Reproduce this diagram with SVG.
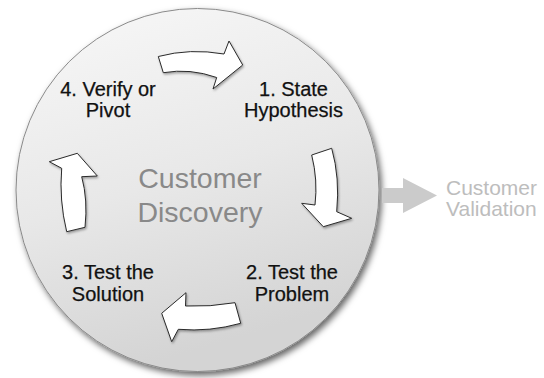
<svg xmlns="http://www.w3.org/2000/svg" width="544" height="378" viewBox="0 0 544 378">
  <defs>
    <linearGradient id="disc" x1="0" y1="0" x2="0.3" y2="1">
      <stop offset="0" stop-color="#f8f8f8"/>
      <stop offset="0.55" stop-color="#e8e8e8"/>
      <stop offset="1" stop-color="#d4d4d4"/>
    </linearGradient>
    <filter id="shadow" x="-10%" y="-10%" width="125%" height="125%">
      <feDropShadow dx="2.5" dy="3.5" stdDeviation="3" flood-color="#000" flood-opacity="0.6"/>
    </filter>
    <filter id="ashadow" x="-20%" y="-20%" width="150%" height="150%">
      <feDropShadow dx="1" dy="1.5" stdDeviation="1.2" flood-color="#000" flood-opacity="0.35"/>
    </filter>
    <style>
      .lbl { font-family: "Liberation Sans", Arial, sans-serif; font-size: 20px; fill: #111; stroke: #111; stroke-width: 0.25; text-anchor: middle; }
      .big { font-family: "Liberation Sans", Arial, sans-serif; font-size: 28.5px; fill: #898989; text-anchor: middle; }
      .out { font-family: "Liberation Sans", Arial, sans-serif; font-size: 21px; fill: #bdbdbd; }
      .cyc { fill: #ffffff; stroke: #2a2a2a; stroke-width: 1; stroke-linejoin: miter; filter: url(#ashadow); }
    </style>
  </defs>
  <rect width="544" height="378" fill="#ffffff"/>

  <g id="discovery">
    <circle cx="197.5" cy="190" r="181.5" fill="url(#disc)" stroke="#8a8a8a" stroke-width="1" filter="url(#shadow)"/>
    <text class="big" x="200" y="188">Customer</text>
    <text class="big" x="200" y="221.5">Discovery</text>
  </g>

  <g id="step1">
    <text class="lbl" x="293.5" y="96">1. State</text>
    <text class="lbl" x="293.5" y="117">Hypothesis</text>
  </g>
  <g id="step2">
    <text class="lbl" x="292" y="279">2. Test the</text>
    <text class="lbl" x="292" y="301">Problem</text>
  </g>
  <g id="step3">
    <text class="lbl" x="108" y="279">3. Test the</text>
    <text class="lbl" x="108" y="301">Solution</text>
  </g>
  <g id="step4">
    <text class="lbl" x="108" y="96">4. Verify or</text>
    <text class="lbl" x="108" y="117">Pivot</text>
  </g>

  <g id="validation">
    <text class="out" x="446" y="195">Customer</text>
    <text class="out" x="446" y="216">Validation</text>
  </g>

  <g id="connectors">
    <path class="cyc" d="M158.3,56.5 Q190,48 224,54 L229,41 L242.7,65 L213,89 L216.7,77.5 Q190,68 163.3,72.7 Z"/>
    <path class="cyc" d="M311.7,155 L331.7,148.3 Q340,178 336.7,211.7 L351.7,218.3 L323.3,226.7 L301.7,203.3 L315,205 Q318,180 311.7,155 Z"/>
    <path class="cyc" d="M235,302.7 Q210,307 185.5,306 L186,292.7 L161.7,313.3 L171.7,341.7 L178.3,329.3 Q210,332 240.7,323.3 Z"/>
    <path class="cyc" d="M66.7,231.7 L85,227.3 Q88,200 81.7,176.7 L97.3,176 L77.3,153.3 L49.3,161.7 L61.7,168.3 Q59,200 66.7,231.7 Z"/>
    <path d="M382,188 L403,188 L403,178 L437,195.5 L403,213 L403,203 L382,203 Z" fill="#cbcbcb"/>
  </g>
</svg>
